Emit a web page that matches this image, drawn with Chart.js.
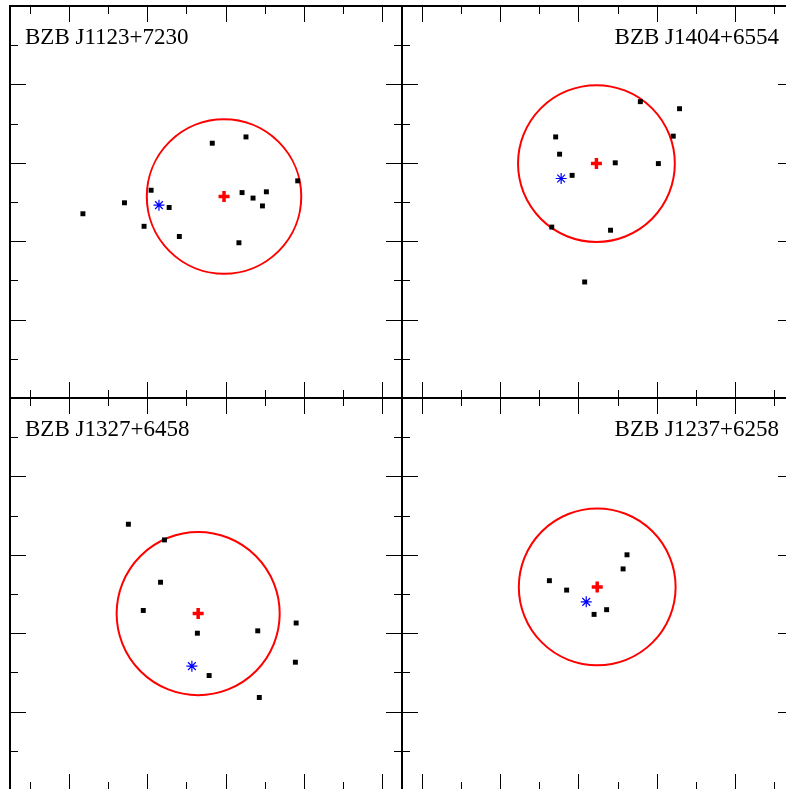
<!DOCTYPE html>
<html>
<head>
<meta charset="utf-8">
<script src="https://cdn.jsdelivr.net/npm/chart.js@4.4.0/dist/chart.umd.min.js"></script>
<style>
  html, body { margin: 0; padding: 0; background: #fff; overflow: hidden; }
  body { width: 786px; height: 789px; position: relative; }
  canvas { position: absolute; }
</style>
</head>
<body>
<canvas id="p1" width="400" height="400" style="left:6px;top:2px"></canvas>
<canvas id="p2" width="400" height="400" style="left:398px;top:2px"></canvas>
<canvas id="p3" width="400" height="400" style="left:6px;top:394px"></canvas>
<canvas id="p4" width="400" height="400" style="left:398px;top:394px"></canvas>
<script>
// panel titles
const panelNames = ['BZB J1123+7230', 'BZB J1404+6554', 'BZB J1327+6458', 'BZB J1237+6258'];

// axis ranges (left column / right column) and tick values
const xRangeA = [0.25, 5.25];
const xRangeB = [0.75, 5.75];
const yRange = [0, 5];
const xTicksA = [0.5, 1, 1.5, 2, 2.5, 3, 3.5, 4, 4.5, 5];
const xTicksB = [1, 1.5, 2, 2.5, 3, 3.5, 4, 4.5, 5, 5.5];
const yTicks = [0.5, 1, 1.5, 2, 2.5, 3, 3.5, 4, 4.5];

// gamma-ray position (red cross) + error circle radius, one entry per panel
const fermiX = [2.98, 3.23, 2.65, 3.24];
const fermiY = [2.57, 2.99, 2.25, 2.59];
const fermiR = [0.985, 1.0, 1.04, 1.0];

// blazar position (blue asterisk)
const blazarX = [2.15, 2.78, 2.57, 3.10];
const blazarY = [2.46, 2.80, 1.58, 2.40];

// other sources (black squares)
const p1SrcX = [2.83, 3.26, 2.05, 1.71, 1.18, 2.28, 1.96, 2.41, 3.21, 3.35, 3.52, 3.47, 3.92, 3.17];
const p1SrcY = [3.25, 3.33, 2.65, 2.49, 2.35, 2.43, 2.19, 2.06, 2.62, 2.55, 2.63, 2.45, 2.77, 1.98];
const p2SrcX = [3.79, 4.29, 4.21, 2.71, 2.76, 3.47, 4.02, 2.92, 2.66, 3.41, 3.08];
const p2SrcY = [3.78, 3.69, 3.34, 3.33, 3.11, 3.00, 2.99, 2.84, 2.18, 2.14, 1.48];
const p3SrcX = [1.76, 2.22, 2.17, 1.95, 2.64, 3.41, 3.90, 3.89, 2.79, 3.43];
const p3SrcY = [3.39, 3.19, 2.65, 2.29, 2.00, 2.03, 2.13, 1.63, 1.46, 1.18];
const p4SrcX = [3.62, 3.57, 2.63, 2.85, 3.36, 3.20];
const p4SrcY = [3.00, 2.82, 2.67, 2.55, 2.30, 2.24];

const isMajor = v => Math.abs(v - Math.round(v)) < 1e-6;

// ticks pointing inward on all four sides
const inwardTicks = {
  id: 'inwardTicks',
  afterDraw(chart) {
    const {ctx, chartArea: a, scales: {x, y}} = chart;
    ctx.save();
    ctx.strokeStyle = '#000';
    ctx.lineWidth = 1;
    ctx.beginPath();
    x.ticks.forEach(t => {
      const px = Math.round(x.getPixelForValue(t.value)) + 0.5;
      const len = isMajor(t.value) ? 16 : 8;
      ctx.moveTo(px, a.top); ctx.lineTo(px, a.top + len);
      ctx.moveTo(px, a.bottom); ctx.lineTo(px, a.bottom - len);
    });
    y.ticks.forEach(t => {
      const py = Math.round(y.getPixelForValue(t.value)) + 0.5;
      const len = isMajor(t.value) ? 16 : 8;
      ctx.moveTo(a.left, py); ctx.lineTo(a.left + len, py);
      ctx.moveTo(a.right, py); ctx.lineTo(a.right - len, py);
    });
    ctx.stroke();
    ctx.restore();
  }
};

// source name in the corner
const panelLabel = {
  id: 'panelLabel',
  afterDraw(chart, args, opts) {
    const {ctx, chartArea: a} = chart;
    ctx.save();
    ctx.font = '23px "Liberation Serif"';
    ctx.fillStyle = '#000';
    ctx.textBaseline = 'alphabetic';
    if (opts.align === 'right') {
      ctx.textAlign = 'right';
      ctx.fillText(opts.text, a.right - 15, a.top + 38);
    } else {
      ctx.textAlign = 'left';
      ctx.fillText(opts.text, a.left + 15, a.top + 38);
    }
    ctx.restore();
  }
};

function axis(axisId, position, range, ticks) {
  const s = {
    type: 'linear',
    axis: axisId,
    position: position,
    min: range[0],
    max: range[1],
    bounds: 'data',
    ticks: { display: false },
    grid: { drawOnChartArea: false, drawTicks: false },
    border: { display: true, width: 2, color: '#000' }
  };
  if (ticks) s.afterBuildTicks = sc => { sc.ticks = ticks.map(v => ({ value: v })); };
  return s;
}

function makePanel(id, k, xRange, xTicks, srcX, srcY, align) {
  new Chart(document.getElementById(id), {
    type: 'scatter',
    data: {
      datasets: [
        {
          label: 'error circle',
          data: [{ x: fermiX[k], y: fermiY[k] }],
          pointStyle: 'circle',
          pointRadius: ctx => {
            const sx = ctx.chart.scales.x;
            return Math.abs(sx.getPixelForValue(fermiX[k] + fermiR[k]) - sx.getPixelForValue(fermiX[k]));
          },
          pointBorderColor: '#ff0000',
          pointBorderWidth: 2,
          pointBackgroundColor: 'rgba(0,0,0,0)',
          order: 3
        },
        {
          label: 'sources',
          data: srcX.map((x, i) => ({ x: x, y: srcY[i] })),
          pointStyle: 'rect',
          pointRadius: 3.5,
          pointBorderWidth: 0,
          pointBackgroundColor: '#000',
          order: 2
        },
        {
          label: 'gamma-ray position',
          data: [{ x: fermiX[k], y: fermiY[k] }],
          pointStyle: 'cross',
          pointRadius: 5.5,
          pointBorderWidth: 3.5,
          pointBorderColor: '#ff0000',
          order: 1
        },
        {
          label: 'blazar',
          data: [{ x: blazarX[k], y: blazarY[k] }],
          pointStyle: 'star',
          pointRadius: 5.5,
          pointBorderWidth: 1.2,
          pointBorderColor: '#0000ff',
          order: 0
        }
      ]
    },
    options: {
      responsive: false,
      animation: false,
      devicePixelRatio: 1,
      events: [],
      layout: { padding: 4, autoPadding: false },
      scales: {
        x: axis('x', 'bottom', xRange, xTicks),
        xTop: axis('x', 'top', xRange),
        y: axis('y', 'left', yRange, yTicks),
        yRight: axis('y', 'right', yRange)
      },
      plugins: {
        legend: { display: false },
        tooltip: { enabled: false },
        panelLabel: { text: panelNames[k], align: align }
      }
    },
    plugins: [inwardTicks, panelLabel]
  });
}

makePanel('p1', 0, xRangeA, xTicksA, p1SrcX, p1SrcY, 'left');
makePanel('p2', 1, xRangeB, xTicksB, p2SrcX, p2SrcY, 'right');
makePanel('p3', 2, xRangeA, xTicksA, p3SrcX, p3SrcY, 'left');
makePanel('p4', 3, xRangeB, xTicksB, p4SrcX, p4SrcY, 'right');
</script>
</body>
</html>
